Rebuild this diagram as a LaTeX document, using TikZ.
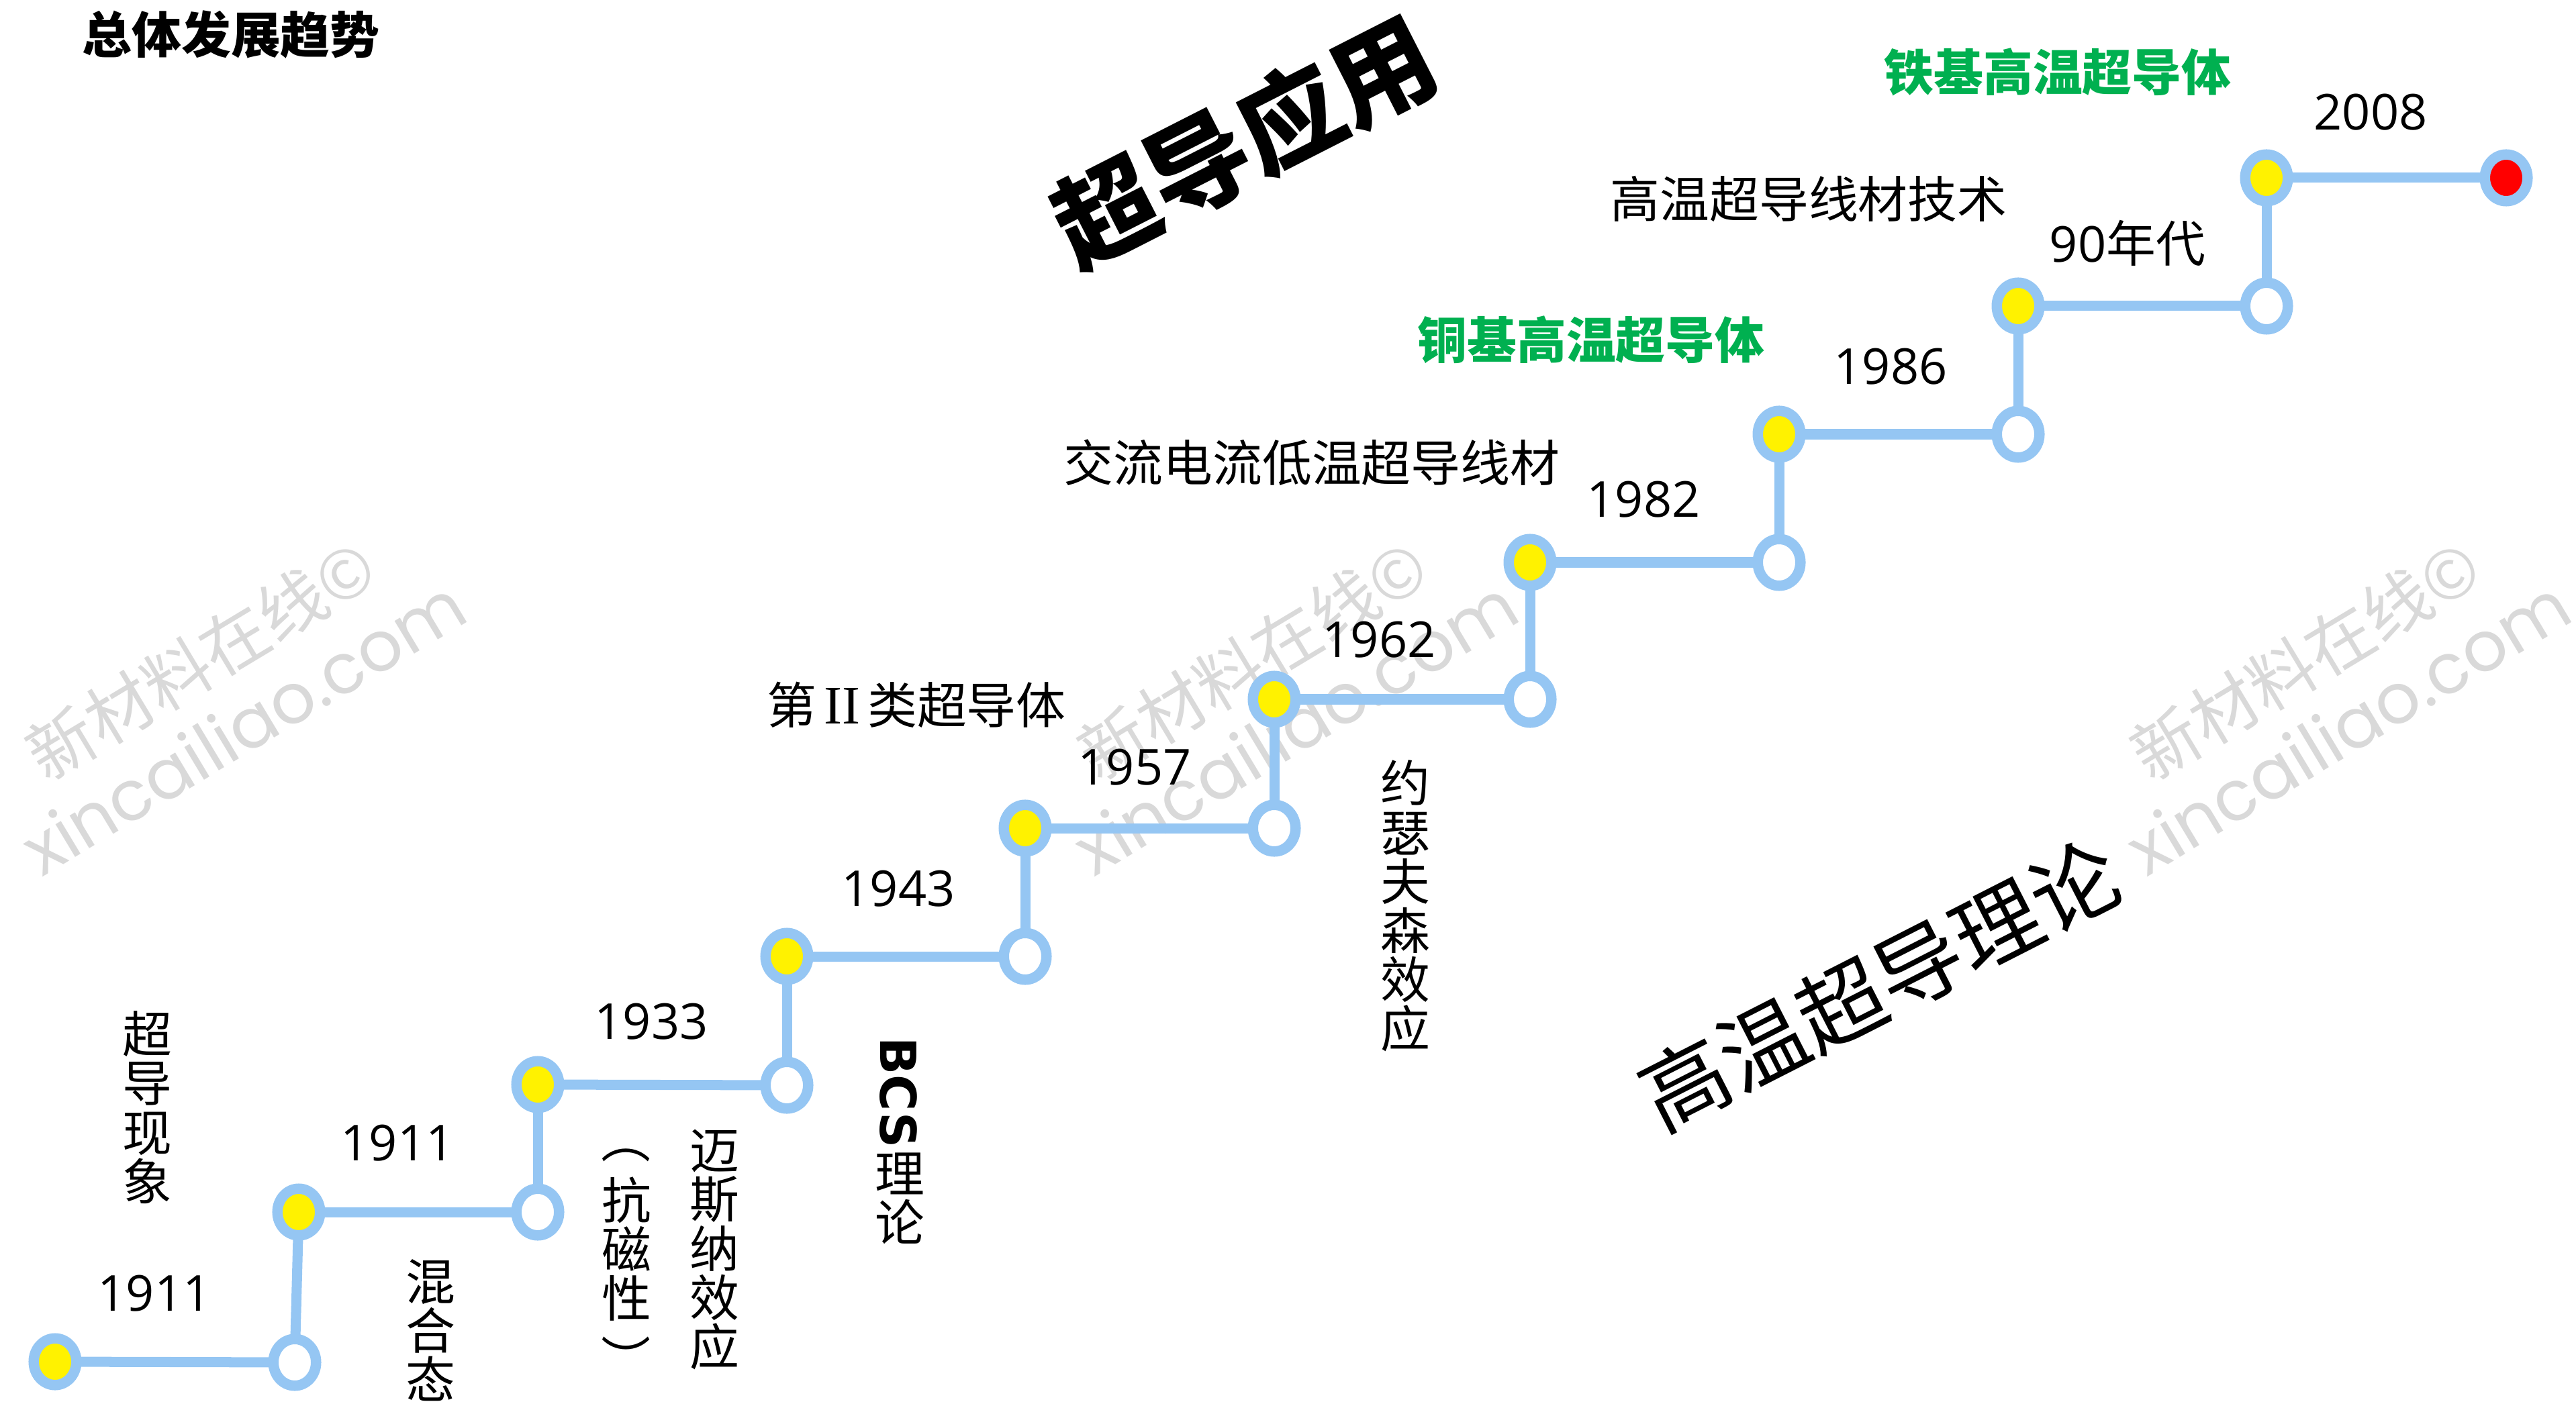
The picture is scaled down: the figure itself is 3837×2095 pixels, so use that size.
\documentclass[tikz,border=0pt]{standalone}
\usepackage{fontspec}
\setmainfont{Noto Sans CJK SC}
\newfontfamily\lat{Open Sans}
\newfontfamily\bcsfont{DejaVu Sans}
\newfontfamily\serifII{Liberation Serif}
\newfontfamily\wmfont{Poppins}
\usetikzlibrary{shapes.geometric}
\definecolor{lblue}{RGB}{149,198,243}
\definecolor{hgreen}{RGB}{0,176,80}
\definecolor{wmgray}{RGB}{217,217,217}
\tikzset{
  conn/.style={draw=lblue, line width=0.15cm},
  dot/.style={ellipse, draw=lblue, line width=0.155cm, minimum width=0.635cm, minimum height=0.695cm, inner sep=0pt, outer sep=0pt},
  ydot/.style={dot, fill=yellow},
  odot/.style={dot, fill=white},
  rdot/.style={dot, fill=red},
  lbl/.style={inner sep=0pt, font=\fontsize{21pt}{20.8pt}\selectfont},
  vlbl/.style={lbl, align=center},
  parlbl/.style={lbl, rotate=-90},
  glbl/.style={inner sep=0pt, text=hgreen, font=\bfseries\fontsize{21pt}{21pt}\selectfont},
  yearlbl/.style={inner sep=0pt, font=\lat\fontsize{21pt}{21pt}\selectfont},
  titlelbl/.style={inner sep=0pt, font=\bfseries\fontsize{21pt}{21pt}\selectfont},
  biglbl/.style={inner sep=0pt, rotate=27, font=\bfseries\fontsize{43.8pt}{43.8pt}\selectfont},
  theolbl/.style={inner sep=0pt, rotate=27, font=\fontsize{37pt}{37pt}\selectfont},
  wmcn/.style={inner sep=0pt, text=wmgray, rotate=31, font=\fontsize{28.5pt}{28.5pt}\selectfont},
  wmen/.style={inner sep=0pt, text=wmgray, rotate=31, font=\wmfont\fontsize{29.5pt}{29.5pt}\selectfont},
}
\begin{document}
\begin{tikzpicture}[x=0.01cm,y=-0.01cm]
\useasboundingbox (0,0) rectangle (3837,2095);
% watermarks
\foreach \dx/\n in {0/1,1567/2,3135/3} {
  \node[wmcn] (wmc\n) at (299+\dx,983) {新材料在线©};
  \node[wmen] (wme\n) at (362+\dx,1082) {xincailiao.com};
}
% timeline nodes
\node[ydot] (A1) at (82,2029) {};
\node[odot] (B1) at (439,2030) {};
\node[ydot] (A2) at (445,1806) {};
\node[odot] (B2) at (801,1806) {};
\node[ydot] (A3) at (801,1616) {};
\node[odot] (B3) at (1172,1617) {};
\node[ydot] (A4) at (1172,1425) {};
\node[odot] (B4) at (1527,1425) {};
\node[ydot] (A5) at (1527,1234) {};
\node[odot] (B5) at (1898,1234) {};
\node[ydot] (A6) at (1898,1042) {};
\node[odot] (B6) at (2279,1042) {};
\node[ydot] (A7) at (2279,838) {};
\node[odot] (B7) at (2650,838) {};
\node[ydot] (A8) at (2650,647) {};
\node[odot] (B8) at (3006,647) {};
\node[ydot] (A9) at (3006,456) {};
\node[odot] (B9) at (3376,456) {};
\node[ydot] (A10) at (3376,265) {};
\node[rdot] (R) at (3733,265) {};
% connectors
\draw[conn] (A1) -- (B1);
\draw[conn] (B1) -- (A2);
\draw[conn] (A2) -- (B2);
\draw[conn] (B2) -- (A3);
\draw[conn] (A3) -- (B3);
\draw[conn] (B3) -- (A4);
\draw[conn] (A4) -- (B4);
\draw[conn] (B4) -- (A5);
\draw[conn] (A5) -- (B5);
\draw[conn] (B5) -- (A6);
\draw[conn] (A6) -- (B6);
\draw[conn] (B6) -- (A7);
\draw[conn] (A7) -- (B7);
\draw[conn] (B7) -- (A8);
\draw[conn] (A8) -- (B8);
\draw[conn] (B8) -- (A9);
\draw[conn] (A9) -- (B9);
\draw[conn] (B9) -- (A10);
\draw[conn] (A10) -- (R);
% titles
\node[titlelbl] (title) at (344,51) {总体发展趋势};
\node[biglbl] (app) at (1853,210) {超导应用};
\node[theolbl] (theo) at (2800,1467) {高温超导理论};
% years
\node[yearlbl] (y1) at (230,1927) {1911};
\node[yearlbl] (y2) at (592,1703) {1911};
\node[yearlbl] (y3) at (970,1522) {1933};
\node[yearlbl] (y4) at (1338,1324) {1943};
\node[yearlbl] (y5) at (1690,1143) {1957};
\node[yearlbl] (y6) at (2054,953) {1962};
\node[yearlbl] (y7) at (2448,744) {1982};
\node[yearlbl] (y8) at (2816,546) {1986};
\node[lbl] (y9) at (3169,362) {{\lat 90}年代};
\node[yearlbl] (y10) at (3531,167) {2008};
% event labels
\node[vlbl] (e1) at (219,1650) {超\\导\\现\\象};
\node[vlbl] (e2) at (641,1982) {混\\合\\态};
\node[parlbl] (p1) at (933,1697) {（};
\node[vlbl] (e3) at (933,1861) {抗\\磁\\性};
\node[parlbl] (p2) at (933,2025) {）};
\node[vlbl] (e4) at (1064,1862) {迈\\斯\\纳\\效\\应};
\node[inner sep=0pt, rotate=-90, font=\bcsfont\bfseries\fontsize{21pt}{21pt}\selectfont] (bcs) at (1338,1628) {BCS};
\node[vlbl] (e5) at (1340,1786) {理\\论};
\node[lbl] (e6) at (1365,1050) {第\hspace{0.11cm}{\serifII\fontsize{23pt}{23pt}\selectfont II}\hspace{0.11cm}类超导体};
\node[vlbl] (e7) at (2093,1350) {约\\瑟\\夫\\森\\效\\应};
\node[lbl] (e8) at (1954,689) {交流电流低温超导线材};
\node[glbl] (e9) at (2370,506) {铜基高温超导体};
\node[lbl] (e10) at (2694,296) {高温超导线材技术};
\node[glbl] (e11) at (3065,107) {铁基高温超导体};
\end{tikzpicture}
\end{document}
